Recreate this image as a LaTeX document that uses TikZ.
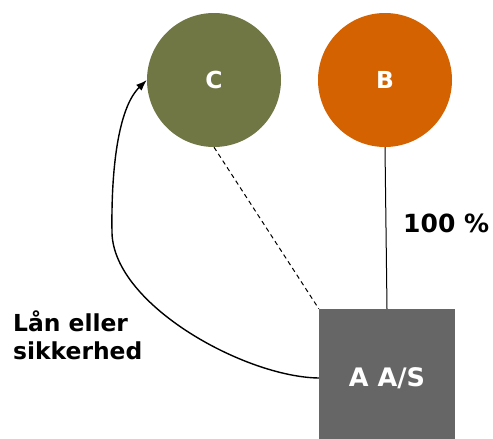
\documentclass[tikz,border=0pt]{standalone}
\usepackage{fontspec}
\setmainfont{DejaVu Sans}
\usetikzlibrary{arrows.meta}
\definecolor{olive}{RGB}{112,119,69}
\definecolor{rust}{RGB}{212,98,0}
\definecolor{slate}{RGB}{102,102,102}
\begin{document}
\begin{tikzpicture}[x=1pt,y=-1pt,
  lbl/.style={font=\bfseries\fontsize{23.4}{28}\selectfont},
  party/.style={circle,draw=none,minimum size=134pt,inner sep=0pt,text=white,lbl},
  company/.style={rectangle,draw=none,fill=slate,minimum width=136pt,minimum height=138pt,inner sep=0pt,text=white,lbl},
  link/.style={line width=1pt,black}]
\useasboundingbox (0,0) rectangle (493,439);
\node[party,fill=olive] (C) at (214,80) {C};
\node[party,fill=rust] (B) at (385,80) {B};
\node[company,font=\bfseries\fontsize{25.5}{30}\selectfont] (A) at (387,378) {A A/S};
\draw[link] (B.south) -- (A.north);
\draw[link,dash pattern=on 4.5pt off 3.5pt] (C.south) -- (A.north west);
\coordinate (bend) at (112,233);
\draw[line width=1.4pt,-{Latex[length=11pt,width=8pt]}]
  (A.west) .. controls (245,377) and (114,305) .. (bend)
           .. controls (111,170) and (118,108) .. (C.west);
\node[lbl,anchor=base west,inner sep=0pt,font=\bfseries\fontsize{25}{30}\selectfont] (pct) at (403,232) {100 \%};
\node[lbl,anchor=north west,align=left,inner sep=0pt] (loan) at (13,311) {Lån eller\\sikkerhed};
\end{tikzpicture}
\end{document}
